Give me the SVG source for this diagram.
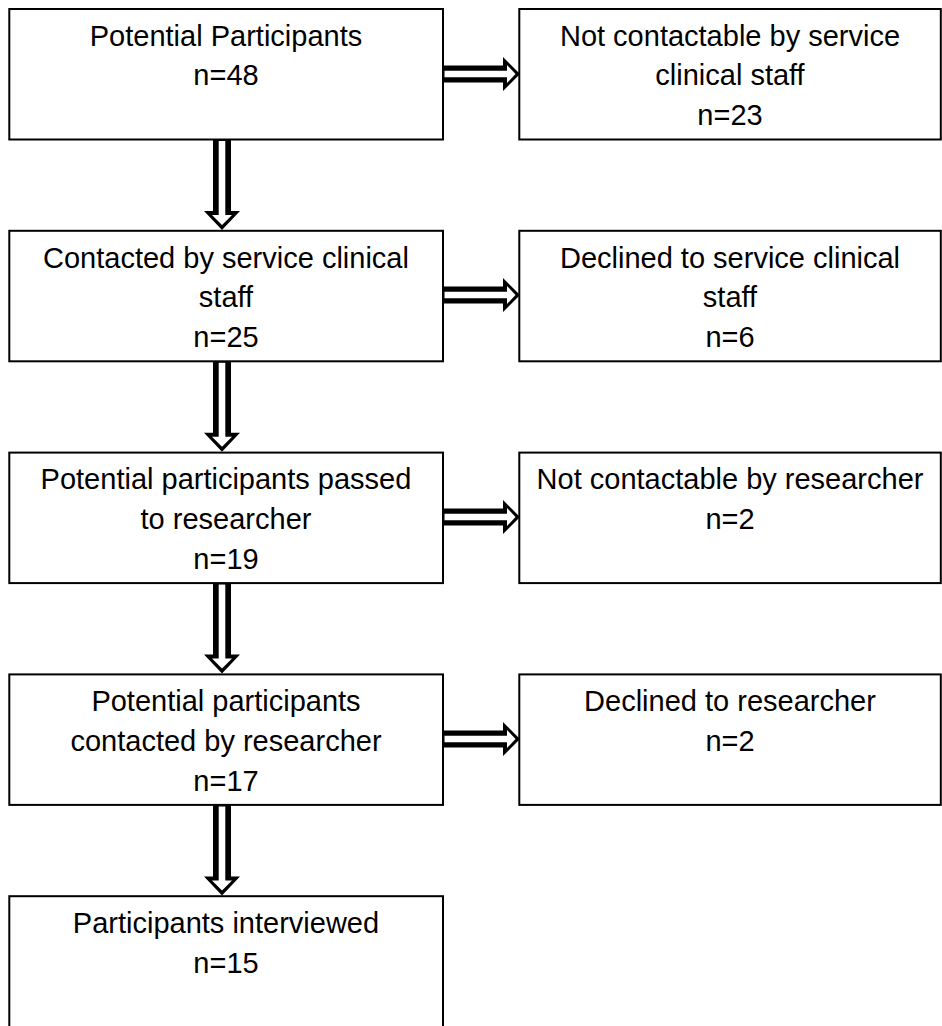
<svg xmlns="http://www.w3.org/2000/svg" width="942" height="1026" viewBox="0 0 942 1026">
<style>
.box{fill:#fff;stroke:#000;stroke-width:2}
.t{font-family:"Liberation Sans",Arial,sans-serif;font-size:29px;fill:#000;text-anchor:middle}
.ao{fill:#000}
.ai{fill:#fff}
</style>
<rect width="942" height="1026" fill="#fff"/>
<g id="connectors">
  <g id="down1"><polygon class="ao" points="213,139.5 231,139.5 231,211 240,211 222,230 204,211 213,211"/><polygon class="ai" points="218.7,141 225.3,141 225.3,215 232,215 222,225 212,215 218.7,215"/></g>
  <g id="down2"><polygon class="ao" points="213,361.3 231,361.3 231,432.8 240,432.8 222,451.8 204,432.8 213,432.8"/><polygon class="ai" points="218.7,362.8 225.3,362.8 225.3,436.8 232,436.8 222,446.8 212,436.8 218.7,436.8"/></g>
  <g id="down3"><polygon class="ao" points="213,583.1 231,583.1 231,654.6 240,654.6 222,673.6 204,654.6 213,654.6"/><polygon class="ai" points="218.7,584.6 225.3,584.6 225.3,658.6 232,658.6 222,668.6 212,658.6 218.7,658.6"/></g>
  <g id="down4"><polygon class="ao" points="213,804.9 231,804.9 231,876.4 240,876.4 222,895.4 204,876.4 213,876.4"/><polygon class="ai" points="218.7,806.4 225.3,806.4 225.3,880.4 232,880.4 222,890.4 212,880.4 218.7,880.4"/></g>
  <g id="right1"><polygon class="ao" points="443,65.5 503,65.5 503,57 520,74 503,91 503,82.5 443,82.5"/><polygon class="ai" points="444.5,70.7 507,70.7 507,65 515.5,74 507,83 507,77.3 444.5,77.3"/></g>
  <g id="right2"><polygon class="ao" points="443,286.5 503,286.5 503,278 520,295 503,312 503,303.5 443,303.5"/><polygon class="ai" points="444.5,291.7 507,291.7 507,286 515.5,295 507,304 507,298.3 444.5,298.3"/></g>
  <g id="right3"><polygon class="ao" points="443,508.5 503,508.5 503,500 520,517 503,534 503,525.5 443,525.5"/><polygon class="ai" points="444.5,513.7 507,513.7 507,508 515.5,517 507,526 507,520.3 444.5,520.3"/></g>
  <g id="right4"><polygon class="ao" points="443,730.5 503,730.5 503,722 520,739 503,756 503,747.5 443,747.5"/><polygon class="ai" points="444.5,735.7 507,735.7 507,730 515.5,739 507,748 507,742.3 444.5,742.3"/></g>
</g>
<g id="n1">
  <rect class="box" x="9.3" y="9" width="433.7" height="130.5"/>
  <text class="t" x="226" y="45.7">Potential Participants</text><text class="t" x="226" y="85.4">n=48</text>
</g>
<g id="r1">
  <rect class="box" x="519.3" y="9" width="421.5" height="130.5"/>
  <text class="t" x="730" y="45.7">Not contactable by service</text><text class="t" x="730" y="85.4">clinical staff</text><text class="t" x="730" y="125.1">n=23</text>
</g>
<g id="n2">
  <rect class="box" x="9.3" y="230.8" width="433.7" height="130.5"/>
  <text class="t" x="226" y="267.5">Contacted by service clinical</text><text class="t" x="226" y="307.2">staff</text><text class="t" x="226" y="346.9">n=25</text>
</g>
<g id="r2">
  <rect class="box" x="519.3" y="230.8" width="421.5" height="130.5"/>
  <text class="t" x="730" y="267.5">Declined to service clinical</text><text class="t" x="730" y="307.2">staff</text><text class="t" x="730" y="346.9">n=6</text>
</g>
<g id="n3">
  <rect class="box" x="9.3" y="452.6" width="433.7" height="130.5"/>
  <text class="t" x="226" y="489.3">Potential participants passed</text><text class="t" x="226" y="529">to researcher</text><text class="t" x="226" y="568.7">n=19</text>
</g>
<g id="r3">
  <rect class="box" x="519.3" y="452.6" width="421.5" height="130.5"/>
  <text class="t" x="730" y="489.3">Not contactable by researcher</text><text class="t" x="730" y="529">n=2</text>
</g>
<g id="n4">
  <rect class="box" x="9.3" y="674.4" width="433.7" height="130.5"/>
  <text class="t" x="226" y="711.1">Potential participants</text><text class="t" x="226" y="750.8">contacted by researcher</text><text class="t" x="226" y="790.5">n=17</text>
</g>
<g id="r4">
  <rect class="box" x="519.3" y="674.4" width="421.5" height="130.5"/>
  <text class="t" x="730" y="711.1">Declined to researcher</text><text class="t" x="730" y="750.8">n=2</text>
</g>
<g id="n5">
  <rect class="box" x="9.3" y="896.2" width="433.7" height="140"/>
  <text class="t" x="226" y="932.9">Participants interviewed</text><text class="t" x="226" y="972.6">n=15</text>
</g>
</svg>
